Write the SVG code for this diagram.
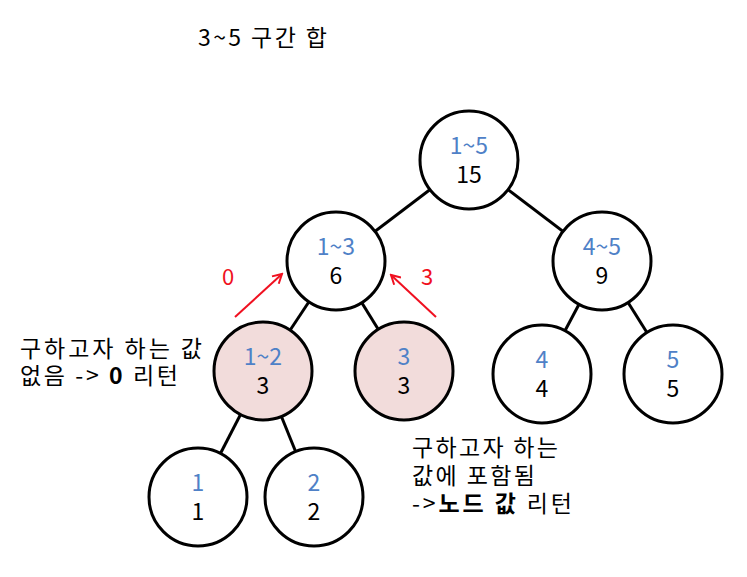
<svg xmlns="http://www.w3.org/2000/svg" width="747" height="577" viewBox="0 0 747 577">
<style>
text{font-family:"Noto Sans CJK KR","Noto Sans",sans-serif;font-size:23px;fill:#000}
.n{fill:#fff;stroke:#000;stroke-width:3}
.p{fill:#F2DCDB}
.r{fill:#4F81C7;text-anchor:middle;font-size:23px}
.v{text-anchor:middle;font-size:23px}
.e{stroke:#000;stroke-width:3;fill:none}
.a{stroke:#F01020;stroke-width:2;fill:none}
.red{fill:#F01020;font-size:22px}
.b{font-weight:bold}
</style>
<defs>
<marker id="ah" viewBox="0 0 12 12" refX="10" refY="6" markerWidth="12" markerHeight="12" markerUnits="userSpaceOnUse" orient="auto">
<path d="M1,1 L10,6 L1,11" fill="none" stroke="#F01020" stroke-width="2"/>
</marker>
</defs>
<rect width="747" height="577" fill="#fff"/>
<text x="198" y="46" textLength="129" lengthAdjust="spacing">3~5 구간 합</text>
<g id="connectors">
<line class="e" x1="469" y1="160" x2="336" y2="261"/>
<line class="e" x1="469" y1="160" x2="602" y2="261"/>
<line class="e" x1="336" y1="261" x2="263" y2="371"/>
<line class="e" x1="336" y1="261" x2="404" y2="371"/>
<line class="e" x1="602" y1="261" x2="542" y2="374"/>
<line class="e" x1="602" y1="261" x2="673" y2="374"/>
<line class="e" x1="263" y1="371" x2="198" y2="497"/>
<line class="e" x1="263" y1="371" x2="314" y2="497"/>
<line class="a" x1="235" y1="317" x2="282" y2="274" marker-end="url(#ah)"/>
<line class="a" x1="436" y1="317" x2="391" y2="275" marker-end="url(#ah)"/>
</g>
<g id="n15"><circle class="n" cx="469" cy="160" r="49"/><text class="r" x="469" y="154">1~5</text><text class="v" x="469" y="183">15</text></g>
<g id="n13"><circle class="n" cx="336" cy="261" r="49"/><text class="r" x="336" y="255">1~3</text><text class="v" x="336" y="284">6</text></g>
<g id="n45"><circle class="n" cx="602" cy="261" r="49"/><text class="r" x="602" y="255">4~5</text><text class="v" x="602" y="284">9</text></g>
<g id="n12"><circle class="n p" cx="263" cy="371" r="49"/><text class="r" x="263" y="365">1~2</text><text class="v" x="263" y="394">3</text></g>
<g id="n3"><circle class="n p" cx="404" cy="371" r="49"/><text class="r" x="404" y="365">3</text><text class="v" x="404" y="394">3</text></g>
<g id="n4"><circle class="n" cx="542" cy="374" r="49"/><text class="r" x="542" y="368">4</text><text class="v" x="542" y="397">4</text></g>
<g id="n5"><circle class="n" cx="673" cy="374" r="49"/><text class="r" x="673" y="368">5</text><text class="v" x="673" y="397">5</text></g>
<g id="n1"><circle class="n" cx="198" cy="497" r="49"/><text class="r" x="198" y="491">1</text><text class="v" x="198" y="520">1</text></g>
<g id="n2"><circle class="n" cx="314" cy="497" r="49"/><text class="r" x="314" y="491">2</text><text class="v" x="314" y="520">2</text></g>
<text class="red" x="222" y="285">0</text>
<text class="red" x="421" y="285">3</text>
<text x="20" y="357" textLength="182" lengthAdjust="spacing">구하고자 하는 값</text>
<text x="20" y="384" textLength="158" lengthAdjust="spacing">없음 -&gt; <tspan class="b">0</tspan> 리턴</text>
<text x="412" y="456" textLength="146" lengthAdjust="spacing">구하고자 하는</text>
<text x="412" y="484" textLength="123" lengthAdjust="spacing">값에 포함됨</text>
<text x="412" y="512" textLength="160" lengthAdjust="spacing">-&gt;<tspan class="b">노드 값</tspan> 리턴</text>
</svg>
